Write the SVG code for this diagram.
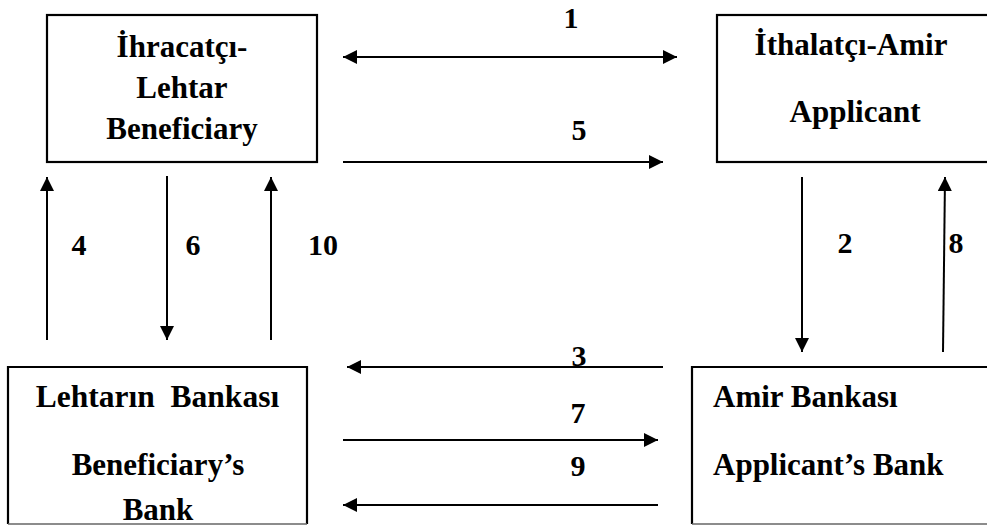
<svg xmlns="http://www.w3.org/2000/svg" width="987" height="526" viewBox="0 0 987 526">
<style>
.box{fill:#fff;stroke:#000;stroke-width:2.2}
.t{font-family:"Liberation Serif","Times New Roman",serif;font-weight:bold;font-size:31px;fill:#000}
.c{text-anchor:middle}
.n{font-family:"Liberation Serif","Times New Roman",serif;font-weight:bold;font-size:30px;fill:#000;text-anchor:middle}
.ln{stroke:#000;stroke-width:2;fill:none}
</style>
<defs>
<marker id="ah" viewBox="0 0 10 10" refX="10" refY="5" markerWidth="16" markerHeight="14" markerUnits="userSpaceOnUse" orient="auto-start-reverse">
<path d="M0,0 L10,5 L0,10 z" fill="#000"/>
</marker>
</defs>
<rect width="987" height="526" fill="#fff"/>
<g id="exporter">
<rect class="box" x="47" y="15" width="270" height="147"/>
<text class="t c" x="182" y="57">İhracatçı-</text>
<text class="t c" x="182" y="98">Lehtar</text>
<text class="t c" x="182" y="139">Beneficiary</text>
</g>
<g id="importer">
<rect class="box" x="717" y="15" width="280" height="147"/>
<text class="t c" x="851" y="55">İthalatçı-Amir</text>
<text class="t c" x="855" y="122">Applicant</text>
</g>
<g id="beneficiary-bank">
<path d="M8,524 L8,367 L307,367 L307,524" class="ln" style="stroke-width:2.2"/>
<line x1="8" y1="524" x2="307" y2="524" stroke="#666" stroke-width="1.6"/>
<text class="t c" x="157.5" y="407" xml:space="preserve" style="font-size:31.5px">Lehtarın  Bankası</text>
<text class="t c" x="158" y="475">Beneficiary’s</text>
<text class="t c" x="158" y="520">Bank</text>
</g>
<g id="applicant-bank">
<path d="M692,524 L692,367 L990,367" class="ln" style="stroke-width:2.2"/>
<line x1="692" y1="524" x2="990" y2="524" stroke="#666" stroke-width="1.6"/>
<text class="t" x="713" y="407">Amir Bankası</text>
<text class="t" x="713" y="475">Applicant’s Bank</text>
</g>
<g id="connectors">
<line class="ln" x1="343" y1="57" x2="677" y2="57" marker-start="url(#ah)" marker-end="url(#ah)"/>
<line class="ln" x1="343" y1="162" x2="663" y2="162" marker-end="url(#ah)"/>
<line class="ln" x1="47" y1="340" x2="47" y2="177" marker-end="url(#ah)"/>
<line class="ln" x1="167" y1="176" x2="167" y2="340" marker-end="url(#ah)"/>
<line class="ln" x1="271" y1="340" x2="271" y2="177" marker-end="url(#ah)"/>
<line class="ln" x1="802" y1="177" x2="802" y2="352" marker-end="url(#ah)"/>
<line class="ln" x1="943" y1="352" x2="945" y2="177" marker-end="url(#ah)"/>
<line class="ln" x1="663" y1="367" x2="347" y2="367" marker-end="url(#ah)"/>
<line class="ln" x1="343" y1="440" x2="658" y2="440" marker-end="url(#ah)"/>
<line class="ln" x1="658" y1="505" x2="343" y2="505" marker-end="url(#ah)"/>
</g>
<g id="labels">
<text class="n" x="571" y="28">1</text>
<text class="n" x="579" y="140">5</text>
<text class="n" x="79" y="255">4</text>
<text class="n" x="193" y="255">6</text>
<text class="n" x="323" y="255">10</text>
<text class="n" x="845" y="253">2</text>
<text class="n" x="956" y="253">8</text>
<text class="n" x="579" y="366">3</text>
<text class="n" x="578" y="423">7</text>
<text class="n" x="578" y="476">9</text>
</g>
</svg>
